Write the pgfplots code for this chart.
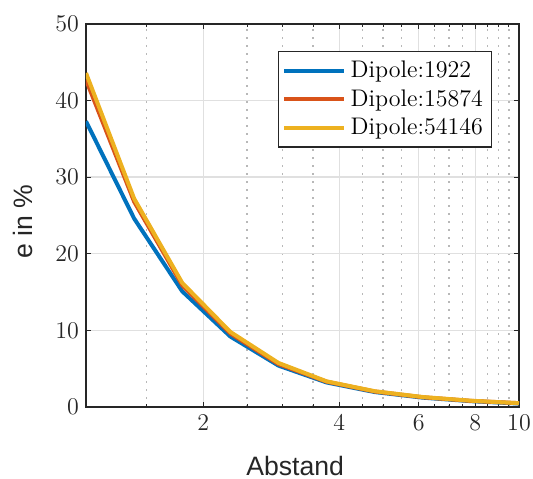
\documentclass[border=0pt]{standalone}
\usepackage{fontspec}
\usepackage{pgfplots}
\pgfplotsset{compat=1.18}
\newfontfamily\helv{Liberation Sans}
\definecolor{mblue}{rgb}{0,0.447,0.741}
\definecolor{mred}{rgb}{0.85,0.325,0.098}
\definecolor{myellow}{rgb}{0.929,0.694,0.125}
\definecolor{axc}{rgb}{0.15,0.15,0.15}

\pgfplotstableread{
x      blue   red    yellow
1.1    37.3   42.7   43.6
1.406  24.6   26.8   27.2
1.797  15.1   15.9   16.2
2.296  9.2    9.6    9.8
2.935  5.4    5.6    5.75
3.751  3.2    3.3    3.35
4.794  1.95   2.02   2.06
6.127  1.22   1.27   1.3
7.83   0.76   0.8    0.82
10     0.45   0.5    0.5
}\datatable

\begin{document}
\begin{tikzpicture}
\begin{axis}[
  scale only axis, width=216.5pt, height=191.5pt,
  xmode=log, xmin=1.1, xmax=10, ymin=0, ymax=50,
  xtick={2,4,6,8,10}, xticklabels={2,4,6,8,10},
  minor xtick={1.5,2.5,3,3.5,4.5,5,5.5,6.5,7,7.5,8.5,9,9.5},
  ytick={0,10,20,30,40,50},
  xmajorgrids, ymajorgrids, xminorgrids,
  major grid style={draw=black!12, line width=0.7pt},
  minor grid style={draw=black!28, dash pattern=on 0.9pt off 3.1pt, line width=0.6pt},
  axis line style={draw=axc, line width=0.6pt},
  major tick style={draw=axc, line width=0.6pt},
  minor tick style={draw=axc, line width=0.5pt},
  major tick length=2.7pt, minor tick length=1.6pt,
  tick label style={font=\fontsize{12}{14}\selectfont, text=axc},
  xlabel={\helv Abstand}, ylabel={\helv e in \%},
  label style={font=\fontsize{13.3}{15}\selectfont, text=axc},
  xlabel style={at={(axis description cs:0.483,-0.178)}, anchor=base},
  ylabel style={at={(axis description cs:-0.1224,0.483)}, anchor=base, rotate=0},
  legend style={at={(rel axis cs:0.9376,0.9295)}, anchor=north east,
    font=\fontsize{12}{15}\selectfont, draw=axc, line width=0.6pt, fill=white,
    inner xsep=2pt, inner ysep=2.5pt, row sep=0pt,
    nodes={inner sep=2.2pt}},
  legend cell align=left,
  legend image code/.code={\draw[#1, line width=2pt] (-1pt,0pt) -- (29pt,0pt);},
  every axis plot/.append style={line width=2pt, no markers},
]
\addplot[mblue] table[x=x,y=blue] {\datatable};
\addplot[mred] table[x=x,y=red] {\datatable};
\addplot[myellow] table[x=x,y=yellow] {\datatable};
\legend{Dipole:1922,Dipole:15874,Dipole:54146}
\coordinate (bl) at (rel axis cs:0,0);
\coordinate (tr) at (rel axis cs:1,1);
\end{axis}
\pgfresetboundingbox
\path[use as bounding box] ([shift={(-43pt,-36pt)}]bl) rectangle ([shift={(7pt,12pt)}]tr);
\end{tikzpicture}
\end{document}
